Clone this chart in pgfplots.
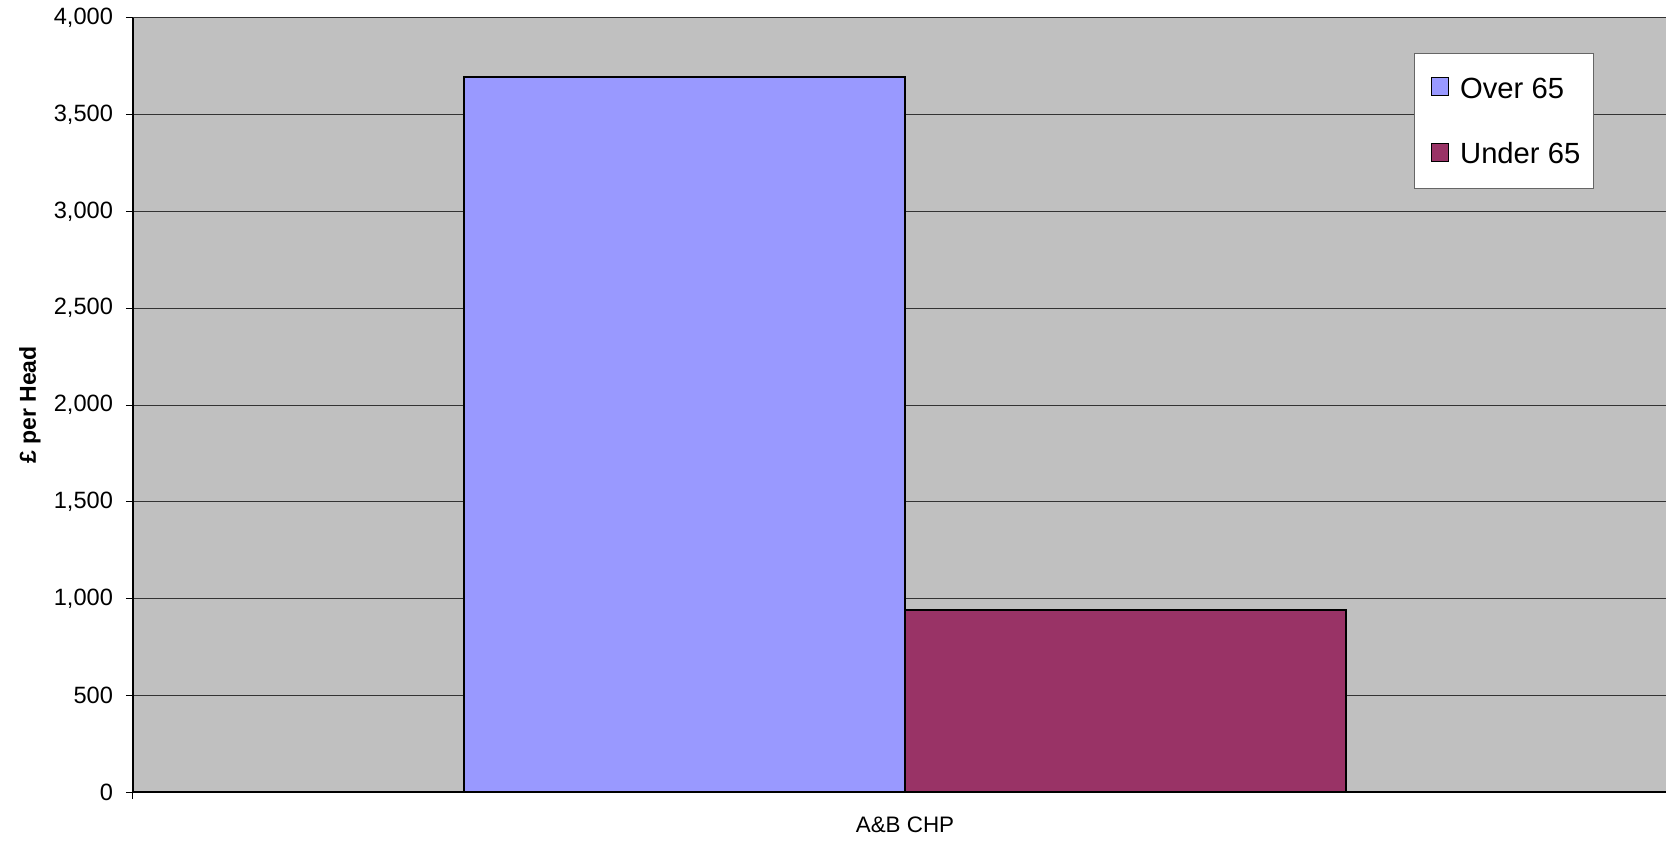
\documentclass[border=0pt]{standalone}
\usepackage{pgfplots}
\pgfplotsset{compat=1.18}
\usepackage{fontspec}
\setmainfont{Liberation Sans}

\definecolor{plotbg}{HTML}{C0C0C0}
\definecolor{overcol}{HTML}{9999FF}
\definecolor{undercol}{HTML}{993366}

\begin{document}
\begin{tikzpicture}
\begin{axis}[
  at={(0,0)}, anchor=south west,
  scale only axis,
  width=772pt, height=387pt,
  xmin=-0.5, xmax=0.5,
  ymin=0, ymax=4000,
  axis background/.style={fill=plotbg},
  axis x line*=bottom, axis y line*=left,
  axis line style={black, line width=0.6pt},
  ybar=0pt, bar width=220.5pt,
  ytick={0,500,...,4000},
  ymajorgrids,
  grid style={black!80, line width=0.5pt},
  tick align=outside,
  major tick length=3.5pt,
  tick style={black, line width=0.5pt},
  xtick={-0.5,0.5}, xticklabels={,},
  extra x ticks={0},
  extra x tick labels={A\&B CHP},
  extra x tick style={major tick length=0pt, grid=none,
    xticklabel style={anchor=center, yshift=-16.5pt, font=\fontsize{11.2}{13}\selectfont}},
  /pgf/number format/.cd, 1000 sep={,}, assume math mode=true,
  /pgfplots/.cd,
  tick label style={font=\fontsize{11.8}{13}\selectfont},
  yticklabel style={xshift=-3pt},
  ylabel={\textbf{£ per Head}},
  ylabel style={at={(axis description cs:-0.0667,0.5)}, anchor=center,
    font=\fontsize{11.5}{13}\selectfont},
  legend style={at={(axis description cs:0.8297,0.9553)}, anchor=north west,
    draw=black!60, line width=0.5pt, fill=white,
    font=\fontsize{14.6}{16}\selectfont,
    inner xsep=6.4pt, inner ysep=12.2pt, row sep=22.5pt,
    nodes={inner sep=0pt, text height=10pt, text depth=0pt},
    /tikz/every odd column/.append style={column sep=5.4pt}},
  legend cell align=left,
  legend image code/.code={\path (0pt,0pt);
    \draw[#1, draw=black, line width=0.5pt] (1.6pt,-3.7pt) rectangle (10.4pt,5.1pt);},
]
\addplot[fill=overcol, draw=black, line width=0.7pt] coordinates {(0,3695)};
\addplot[fill=undercol, draw=black, line width=0.7pt] coordinates {(0,940)};
\legend{Over 65, Under 65}
\end{axis}
\pgfresetboundingbox
\path (-66.5pt,-25pt) rectangle (766.5pt,396pt);
\end{tikzpicture}
\end{document}
